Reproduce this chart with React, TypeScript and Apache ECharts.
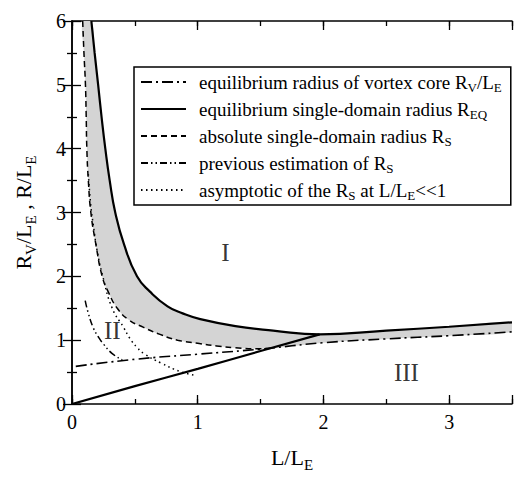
import React, { useEffect, useRef } from "react";
import * as echarts from "echarts";

// ---- data ----
const rvCore: number[][] = [[0.03, 0.59], [0.5, 0.70], [1, 0.78], [1.5, 0.86], [2, 0.96], [2.5, 1.02], [3, 1.07], [3.5, 1.13]];
const reqUpper: number[][] = [[0.154, 6], [0.18, 5.5], [0.208, 5], [0.235, 4.5], [0.265, 4], [0.3, 3.5], [0.344, 3], [0.414, 2.5], [0.517, 2], [0.62, 1.76], [0.76, 1.53], [0.88, 1.42], [1.02, 1.33], [1.3, 1.22], [1.6, 1.15], [1.97, 1.09], [2.5, 1.15], [3, 1.21], [3.5, 1.28]];
const reqLower: number[][] = [[0, 0], [0.5, 0.28], [1, 0.55], [1.5, 0.83], [1.97, 1.09]];
const rsAbs: number[][] = [[0.085, 6], [0.095, 5.5], [0.107, 5], [0.113, 4.5], [0.118, 4], [0.13, 3.5], [0.15, 3], [0.19, 2.5], [0.24, 2], [0.29, 1.75], [0.36, 1.5], [0.45, 1.32], [0.57, 1.2], [0.7, 1.09], [0.84, 1.0], [1.0, 0.95], [1.15, 0.91], [1.3, 0.88], [1.48, 0.865], [1.6, 0.875]];
const prevEst: number[][] = [[0.105, 1.62], [0.13, 1.42], [0.17, 1.19], [0.21, 1.05], [0.25, 0.94], [0.32, 0.79], [0.4, 0.69]];
const asymp: number[][] = [[0.13, 3.6], [0.15, 3.1], [0.17, 2.8], [0.2, 2.4], [0.245, 2.0], [0.32, 1.5], [0.41, 1.2], [0.46, 1.03], [0.52, 0.88], [0.58, 0.78], [0.71, 0.64], [0.86, 0.51], [0.98, 0.45]];

const regionNames = ["I", "II", "III"];
const regionPos: number[][] = [[1.22, 2.38], [0.32, 1.15], [2.66, 0.49]];

const xTickLabels = ["0", "1", "2", "3"];
const yTickLabels = ["0", "1", "2", "3", "4", "5", "6"];

const legendKeys = ["rv", "req", "rs", "prev", "asym"];
const legendTexts = [
  "equilibrium radius of vortex core R{sub|V}/L{sub|E}",
  "equilibrium single-domain radius R{sub|EQ}",
  "absolute single-domain radius R{sub|S}",
  "previous estimation of R{sub|S}",
  "asymptotic of the R{sub|S} at L/L{sub|E}<<1",
];

const FONT = "'Liberation Serif', 'Times New Roman', serif";

export default function App() {
  const ref = useRef<HTMLDivElement>(null);
  useEffect(() => {
    if (!ref.current) return;
    const chart = echarts.init(ref.current, undefined, { renderer: "svg" });
    const black = "#000";
    const subRich = { sub: { fontSize: 13, verticalAlign: "bottom", lineHeight: 24, fontFamily: FONT, color: black } };
    const axisNameRich = { sub: { fontSize: 15, verticalAlign: "bottom", lineHeight: 30, fontFamily: FONT, color: black } };
    const lineBase = { type: "line", symbol: "none", showSymbol: false, smooth: 0.5, xAxisIndex: 0, yAxisIndex: 0, z: 3, itemStyle: { color: black } };
    const tickStyle = { color: black, width: 1.3 };
    const majorX = (pos: string, labels: boolean) => ({
      type: "value", position: pos, min: 0, max: 3.5, interval: 1,
      axisLine: { show: true, lineStyle: { color: black, width: 1.5 } },
      axisTick: { show: true, inside: true, length: 9, lineStyle: tickStyle },
      axisLabel: {
        show: labels, color: black, fontSize: 20, fontFamily: FONT, margin: 8,
        formatter: (v: number) => (xTickLabels.includes(String(v)) ? String(v) : ""),
      },
      splitLine: { show: false },
    });
    const minorX = (pos: string) => ({
      type: "value", position: pos, min: 0, max: 3.5, interval: 0.5,
      axisLine: { show: false },
      axisTick: { show: true, inside: true, length: 5, lineStyle: tickStyle },
      axisLabel: { show: false },
      splitLine: { show: false },
    });
    const yAx = (pos: string, labels: boolean) => ({
      type: "value", position: pos, min: 0, max: 6, interval: 1,
      axisLine: { show: true, lineStyle: { color: black, width: 1.5 } },
      axisTick: { show: true, inside: true, length: 9, lineStyle: tickStyle },
      minorTick: { show: true, splitNumber: 2, length: 5, lineStyle: tickStyle },
      axisLabel: {
        show: labels, color: black, fontSize: 20, fontFamily: FONT, margin: 6,
        formatter: (v: number) => (yTickLabels.includes(String(v)) ? String(v) : ""),
      },
      splitLine: { show: false },
    });

    const bx = majorX("bottom", true) as any;
    bx.name = "L/L{sub|E}";
    bx.nameLocation = "middle";
    bx.nameGap = 38;
    bx.nameTextStyle = { color: black, fontSize: 22, fontFamily: FONT, lineHeight: 30, rich: axisNameRich };
    const ly = yAx("left", true) as any;
    ly.name = "R{sub|V}/L{sub|E} , R/L{sub|E}";
    ly.nameLocation = "middle";
    ly.nameGap = 34;
    ly.nameTextStyle = { color: black, fontSize: 22, fontFamily: FONT, lineHeight: 30, rich: axisNameRich };

    const lowerBoundary = [
      ...rvCore.filter((p) => p[0] >= 1.6).slice().reverse(),
      ...rsAbs.slice().reverse(),
    ];

    chart.setOption({
      animation: false,
      backgroundColor: "#fff",
      grid: { left: 68, right: -7, top: 21, bottom: 58, show: false },
      xAxis: [bx, minorX("bottom"), majorX("top", false), minorX("top")],
      yAxis: [ly, yAx("right", false)],
      legend: {
        show: true,
        orient: "vertical",
        left: 134,
        top: 67,
        data: legendKeys,
        itemWidth: 45,
        itemHeight: 14,
        itemGap: 3,
        padding: [3, 9, 3, 6],
        borderColor: black,
        borderWidth: 1.5,
        backgroundColor: "#fff",
        selectedMode: false,
        itemStyle: { opacity: 0 },
        formatter: (name: string) => legendTexts[legendKeys.indexOf(name)],
        textStyle: { color: black, fontSize: 19, fontFamily: FONT, lineHeight: 24, padding: [0, 0, 0, 8], rich: subRich },
      },
      series: [
        {
          type: "custom",
          name: "fill",
          xAxisIndex: 0,
          yAxisIndex: 0,
          clip: true,
          z: 1,
          silent: true,
          data: [[0, 0]],
          renderItem: (params: any, api: any) => {
            const pts = [...reqUpper, ...lowerBoundary].map((p) => api.coord(p));
            return {
              type: "polygon",
              shape: { points: pts, smooth: 0.4 },
              style: { fill: "#d4d4d4", stroke: "none" },
            };
          },
        },
        { ...lineBase, name: "rv", data: rvCore, lineStyle: { color: black, width: 1.6, type: [11, 4, 2, 4] } },
        { ...lineBase, name: "req", data: reqUpper, lineStyle: { color: black, width: 2.2, type: "solid" } },
        { ...lineBase, name: "reqLow", data: reqLower, lineStyle: { color: black, width: 2.2, type: "solid" } },
        { ...lineBase, name: "rs", data: rsAbs, lineStyle: { color: black, width: 1.5, type: [6, 4] } },
        { ...lineBase, name: "prev", data: prevEst, lineStyle: { color: black, width: 1.5, type: [7, 3, 1.5, 3, 1.5, 3] } },
        { ...lineBase, name: "asym", data: asymp, lineStyle: { color: black, width: 1.5, type: [1.5, 3.5] } },
        {
          type: "scatter",
          name: "regions",
          xAxisIndex: 0,
          yAxisIndex: 0,
          symbolSize: 1,
          itemStyle: { color: "rgba(0,0,0,0)" },
          z: 4,
          data: regionPos.map((p, i) => [p[0], p[1], regionNames[i]]),
          label: {
            show: true,
            position: "inside",
            formatter: (p: any) => p.data[2],
            color: black,
            fontSize: 25,
            fontFamily: FONT,
          },
        },
      ],
    });
    return () => chart.dispose();
  }, []);
  return <div ref={ref} style={{ position: "fixed", left: 0, top: 0, width: 515, height: 477 }} />;
}
